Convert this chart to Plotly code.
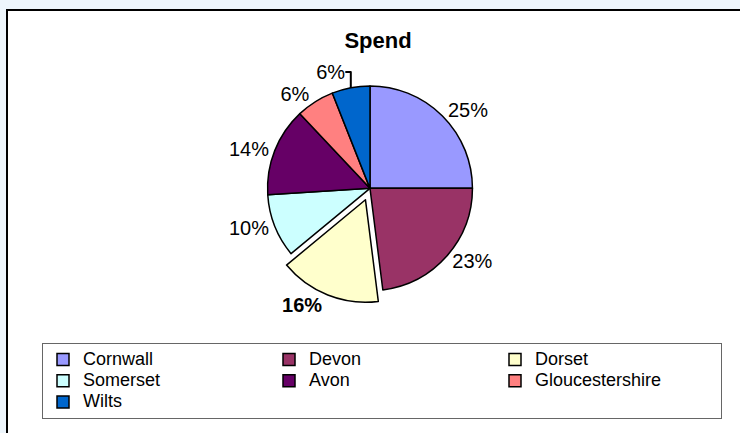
import plotly.graph_objects as go

regions = ["Cornwall", "Devon", "Dorset", "Somerset", "Avon", "Gloucestershire", "Wilts"]
spend = [25, 23, 16, 10, 14, 6, 6]
colors = ["#9999FF", "#993366", "#FFFFCC", "#CCFFFF", "#660066", "#FF8080", "#0066CC"]
pulls = [0, 0, 0.12, 0, 0, 0, 0]
label_templates = ["%{percent:.0%}", "%{percent:.0%}", "<b>%{percent:.0%}</b>",
                   "%{percent:.0%}", "%{percent:.0%}", "%{percent:.0%}", "%{percent:.0%}"]

FONT = "Liberation Sans, Arial, sans-serif"

# legend entries use a larger text span; the legend's own (smaller) font keeps rows tight
legend_names = ['<span style="font-size:18px">%s</span>' % r for r in regions]

fig = go.Figure(go.Pie(
    labels=legend_names,
    values=spend,
    sort=False,
    direction="clockwise",
    rotation=0,
    pull=pulls,
    marker=dict(colors=colors, line=dict(color="black", width=1.5)),
    textposition="outside",
    texttemplate=label_templates,
    textfont=dict(family=FONT, size=20, color="black"),
    outsidetextfont=dict(family=FONT, size=20, color="black"),
    domain=dict(x=[0.2, 0.8], y=[0.30, 0.83]),
    customdata=regions,
    hovertemplate="%{customdata}: %{percent:.0%}<extra></extra>",
))

fig.update_layout(
    width=740, height=433,
    margin=dict(l=0, r=0, t=0, b=0, autoexpand=False),
    paper_bgcolor="#EEF6FC",
    plot_bgcolor="white",
    font=dict(family=FONT, size=17, color="black"),
    title=dict(text="<b>Spend</b>", x=378 / 740, xanchor="center",
               y=1 - 40 / 433, yanchor="middle",
               font=dict(family=FONT, size=22, color="black")),
    legend=dict(
        orientation="h",
        x=42 / 740, xanchor="left",
        y=1 - 343 / 433, yanchor="top",
        bordercolor="#666666", borderwidth=1,
        bgcolor="white",
        entrywidth=181, entrywidthmode="pixels",
        itemwidth=30,
        font=dict(family=FONT, size=14, color="black"),
        tracegroupgap=0,
    ),
    shapes=[dict(type="rect", xref="paper", yref="paper",
                 x0=7 / 740, x1=1.05, y0=-0.05, y1=1 - 10 / 433,
                 fillcolor="white", line=dict(color="black", width=2),
                 layer="below")],
)

fig.write_html("out.html",
               config={"displayModeBar": False},
               post_script="document.body.style.margin='0';document.body.style.background='#EEF6FC';")
